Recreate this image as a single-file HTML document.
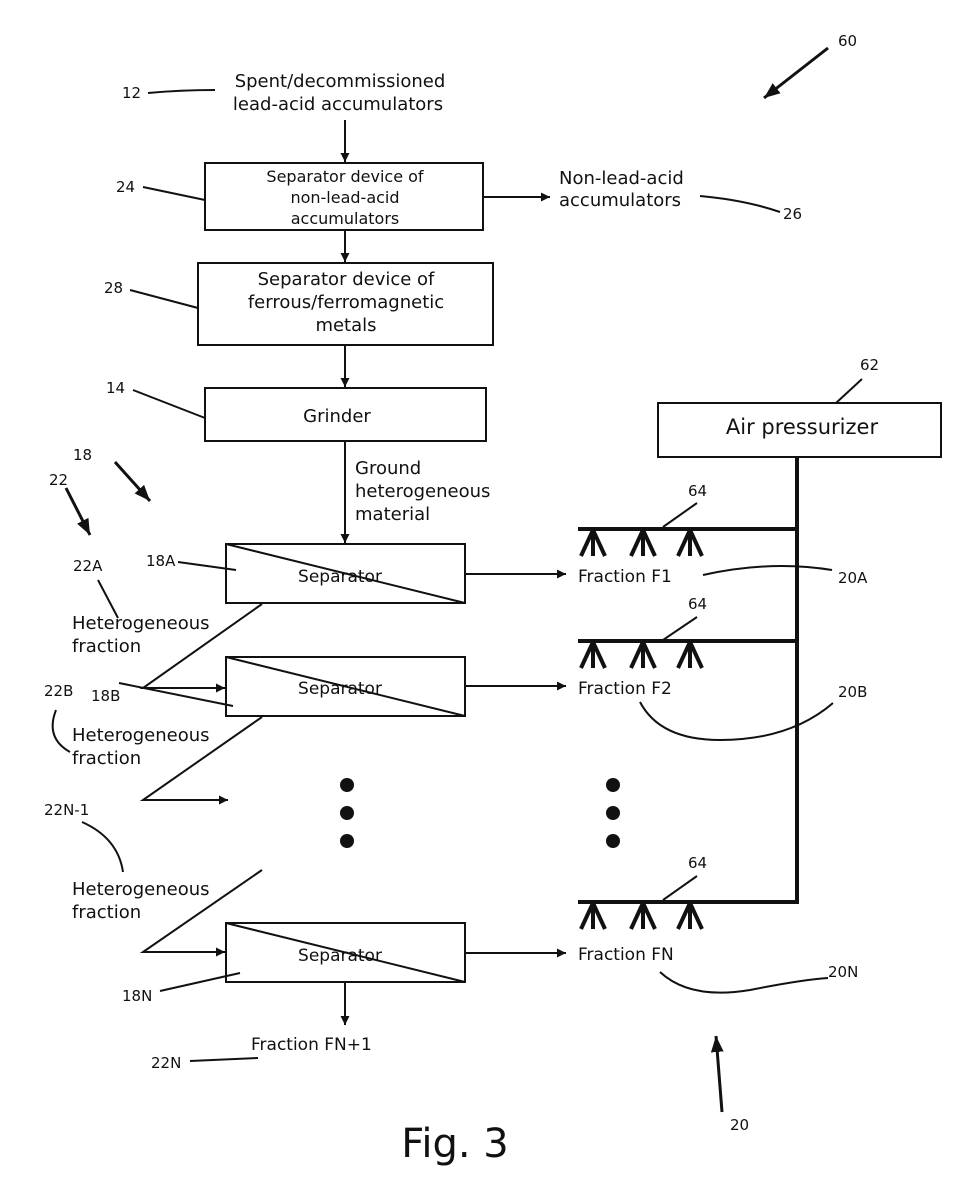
<!DOCTYPE html>
<html><head><meta charset="utf-8"><style>
html,body{margin:0;padding:0;background:#fff}
svg{display:block}
text{font-family:"DejaVu Sans","Liberation Sans",sans-serif;fill:#111}
</style></head><body>
<svg width="956" height="1181" viewBox="0 0 956 1181" xmlns="http://www.w3.org/2000/svg">
<defs>
<marker id="a" viewBox="0 0 10 10" refX="10" refY="5" markerWidth="9" markerHeight="9" orient="auto-start-reverse" markerUnits="userSpaceOnUse"><path d="M0,0 L10,5 L0,10 z" fill="#111"/></marker>
<marker id="b" viewBox="0 0 10 10" refX="10" refY="5" markerWidth="16" markerHeight="16" orient="auto" markerUnits="userSpaceOnUse"><path d="M0,1 L10,5 L0,9 z" fill="#111"/></marker>
</defs>
<g stroke="#111" stroke-width="2" fill="none">
<rect x="205" y="163" width="278" height="67"/>
<rect x="198" y="263" width="295" height="82"/>
<rect x="205" y="388" width="281" height="53"/>
<rect x="658" y="403" width="283" height="54"/>
<rect x="226" y="544" width="239" height="59"/><line x1="226" y1="544" x2="465" y2="603"/>
<rect x="226" y="657" width="239" height="59"/><line x1="226" y1="657" x2="465" y2="716"/>
<rect x="226" y="923" width="239" height="59"/><line x1="226" y1="923" x2="465" y2="982"/>
<line x1="345" y1="120" x2="345" y2="162" marker-end="url(#a)"/>
<line x1="345" y1="230" x2="345" y2="262" marker-end="url(#a)"/>
<line x1="345" y1="345" x2="345" y2="387" marker-end="url(#a)"/>
<line x1="345" y1="441" x2="345" y2="543" marker-end="url(#a)"/>
<line x1="483" y1="197" x2="550" y2="197" marker-end="url(#a)"/>
<line x1="465" y1="574" x2="566" y2="574" marker-end="url(#a)"/>
<line x1="465" y1="686" x2="566" y2="686" marker-end="url(#a)"/>
<line x1="465" y1="953" x2="566" y2="953" marker-end="url(#a)"/>
<line x1="345" y1="982" x2="345" y2="1025" marker-end="url(#a)"/>
<polyline points="262,604 143,688 225,688" marker-end="url(#a)"/>
<polyline points="262,717 143,800 228,800" marker-end="url(#a)"/>
<polyline points="262,870 143,952 225,952" marker-end="url(#a)"/>
<path d="M148,93 Q180,90 215,90"/>
<line x1="143" y1="187" x2="205" y2="200"/>
<line x1="130" y1="290" x2="198" y2="308"/>
<line x1="133" y1="390" x2="205" y2="418"/>
<line x1="178" y1="562" x2="236" y2="570"/>
<line x1="119" y1="683" x2="233" y2="706"/>
<line x1="160" y1="991" x2="240" y2="973"/>
<line x1="190" y1="1061" x2="258" y2="1058"/>
<line x1="98" y1="580" x2="118" y2="618"/>
<path d="M56,710 Q45,738 70,752"/>
<path d="M82,822 Q118,838 123,872"/>
<path d="M700,196 Q745,200 780,212"/>
<line x1="862" y1="379" x2="836" y2="403"/>
<path d="M703,575 Q770,560 832,570"/>
<path d="M640,702 Q660,740 720,740 Q790,740 833,703"/>
<path d="M660,972 Q690,1000 750,990 Q800,980 828,978"/>
<line x1="663" y1="527" x2="697" y2="503"/>
<line x1="663" y1="640" x2="697" y2="617"/>
<line x1="663" y1="900" x2="697" y2="876"/>
</g>
<g stroke="#111" stroke-width="3" fill="none">
<line x1="115" y1="462" x2="150" y2="501" marker-end="url(#b)"/>
<line x1="66" y1="488" x2="90" y2="535" marker-end="url(#b)"/>
<line x1="828" y1="48" x2="764" y2="98" marker-end="url(#b)"/>
<line x1="722" y1="1112" x2="716" y2="1036" marker-end="url(#b)"/>
</g>
<g stroke="#111" stroke-width="4" fill="none">
<line x1="797" y1="457" x2="797" y2="904"/>
<line x1="578" y1="529" x2="799" y2="529"/>
<line x1="578" y1="641" x2="799" y2="641"/>
<line x1="578" y1="902" x2="799" y2="902"/>
<path d="M593,530 L581,556 M593,530 L593,556 M593,530 L605,556"/>
<path d="M643,530 L631,556 M643,530 L643,556 M643,530 L655,556"/>
<path d="M690,530 L678,556 M690,530 L690,556 M690,530 L702,556"/>
<path d="M593,642 L581,668 M593,642 L593,668 M593,642 L605,668"/>
<path d="M643,642 L631,668 M643,642 L643,668 M643,642 L655,668"/>
<path d="M690,642 L678,668 M690,642 L690,668 M690,642 L702,668"/>
<path d="M593,903 L581,929 M593,903 L593,929 M593,903 L605,929"/>
<path d="M643,903 L631,929 M643,903 L643,929 M643,903 L655,929"/>
<path d="M690,903 L678,929 M690,903 L690,929 M690,903 L702,929"/>
</g>
<g fill="#111">
<circle cx="347" cy="785" r="7"/><circle cx="347" cy="813" r="7"/><circle cx="347" cy="841" r="7"/>
<circle cx="613" cy="785" r="7"/><circle cx="613" cy="813" r="7"/><circle cx="613" cy="841" r="7"/>
</g>
<g font-size="18">
<text x="340" y="87" text-anchor="middle">Spent/decommissioned</text>
<text x="338" y="110" text-anchor="middle">lead-acid accumulators</text>
<text x="345" y="182" text-anchor="middle" font-size="16">Separator device of</text>
<text x="345" y="203" text-anchor="middle" font-size="16">non-lead-acid</text>
<text x="345" y="224" text-anchor="middle" font-size="16">accumulators</text>
<text x="346" y="285" text-anchor="middle">Separator device of</text>
<text x="346" y="308" text-anchor="middle">ferrous/ferromagnetic</text>
<text x="346" y="331" text-anchor="middle">metals</text>
<text x="337" y="422" text-anchor="middle">Grinder</text>
<text x="802" y="434" text-anchor="middle" font-size="21">Air pressurizer</text>
<text x="559" y="184">Non-lead-acid</text>
<text x="559" y="206">accumulators</text>
<text x="355" y="474">Ground</text>
<text x="355" y="497">heterogeneous</text>
<text x="355" y="520">material</text>
<text x="340" y="582" text-anchor="middle" font-size="17">Separator</text>
<text x="340" y="694" text-anchor="middle" font-size="17">Separator</text>
<text x="340" y="961" text-anchor="middle" font-size="17">Separator</text>
<text x="578" y="582" font-size="17">Fraction F1</text>
<text x="578" y="694" font-size="17">Fraction F2</text>
<text x="578" y="960" font-size="17">Fraction FN</text>
<text x="251" y="1050" font-size="17">Fraction FN+1</text>
<text x="72" y="629">Heterogeneous</text><text x="72" y="652">fraction</text>
<text x="72" y="741">Heterogeneous</text><text x="72" y="764">fraction</text>
<text x="72" y="895">Heterogeneous</text><text x="72" y="918">fraction</text>
</g>
<g font-size="15">
<text x="122" y="98">12</text>
<text x="116" y="192">24</text>
<text x="783" y="219">26</text>
<text x="104" y="293">28</text>
<text x="106" y="393">14</text>
<text x="860" y="370">62</text>
<text x="838" y="46">60</text>
<text x="73" y="460">18</text>
<text x="49" y="485">22</text>
<text x="73" y="571">22A</text>
<text x="146" y="566">18A</text>
<text x="44" y="696">22B</text>
<text x="91" y="701">18B</text>
<text x="44" y="815">22N-1</text>
<text x="122" y="1001">18N</text>
<text x="151" y="1068">22N</text>
<text x="688" y="496">64</text>
<text x="688" y="609">64</text>
<text x="688" y="868">64</text>
<text x="838" y="583">20A</text>
<text x="838" y="697">20B</text>
<text x="828" y="977">20N</text>
<text x="730" y="1130">20</text>
</g>
<text x="455" y="1157" text-anchor="middle" font-size="40">Fig. 3</text>
</svg>
</body></html>
